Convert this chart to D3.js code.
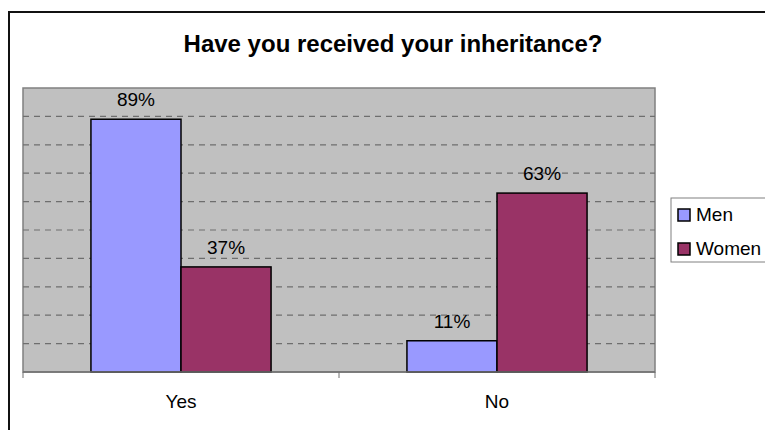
<!DOCTYPE html>
<html>
<head>
<meta charset="utf-8">
<script src="https://cdn.jsdelivr.net/npm/d3@7/dist/d3.min.js"></script>
<style>
  body { margin: 0; background: #fff; }
  svg { display: block; font-family: "Liberation Sans", Arial, sans-serif; }
</style>
</head>
<body>
<div class="chart"></div>
<script>
// data
const answers = ["Yes", "No"]
const groups = ["Men", "Women"]
const men = [89, 11]
const women = [37, 63]
const gridTicks = [10, 20, 30, 40, 50, 60, 70, 80, 90]

const W = 765, H = 430
const margin = {top: 88, right: 110, bottom: 58, left: 23},
  width = 655 - margin.left,
  height = 372 - margin.top

const svg = d3.select(".chart")
  .append("svg")
  .attr("width", W)
  .attr("height", H)

// outer chart frame (runs off the right and bottom of the picture)
svg.append("rect")
  .attr("x", 9).attr("y", 12)
  .attr("width", W + 20).attr("height", H + 20)
  .attr("fill", "none")
  .attr("stroke", "#111")
  .attr("stroke-width", 2)

svg.append("text")
  .attr("x", 393).attr("y", 52)
  .attr("text-anchor", "middle")
  .attr("font-size", "24px")
  .attr("font-weight", "bold")
  .attr("fill", "#000")
  .text("Have you received your inheritance?")

const g = svg.append("g")
  .attr("transform", `translate(${margin.left},${margin.top})`)

const x = d3.scaleBand()
  .domain(answers)
  .range([0, width])
  .paddingInner(0)
  .paddingOuter(0)

const xSub = d3.scaleBand()
  .domain(groups)
  .range([x.bandwidth() * 0.215, x.bandwidth() * 0.785])

const y = d3.scaleLinear()
  .domain([0, 100])
  .range([height, 0])

const color = d3.scaleOrdinal()
  .domain(groups)
  .range(["#9999ff", "#993366"])

// plot area
g.append("rect")
  .attr("width", width)
  .attr("height", height)
  .attr("fill", "#c0c0c0")
  .attr("stroke", "#808080")
  .attr("stroke-width", 1.5)

// dashed grid
g.append("g")
  .selectAll("line")
  .data(gridTicks)
  .join("line")
  .attr("x1", 0).attr("x2", width)
  .attr("y1", d => y(d)).attr("y2", d => y(d))
  .attr("stroke", "#6e6e6e")
  .attr("stroke-width", 1.2)
  .attr("stroke-dasharray", "6,5")

const rows = answers.map((a, i) => ({answer: a, values: [
  {key: "Men", value: men[i]},
  {key: "Women", value: women[i]}
]}))

const grp = g.append("g")
  .selectAll("g")
  .data(rows)
  .join("g")
  .attr("transform", d => `translate(${x(d.answer)},0)`)

grp.selectAll("rect")
  .data(d => d.values)
  .join("rect")
  .attr("x", d => xSub(d.key))
  .attr("width", xSub.bandwidth())
  .attr("y", d => y(d.value))
  .attr("height", d => height - y(d.value))
  .attr("fill", d => color(d.key))
  .attr("stroke", "#000")
  .attr("stroke-width", 1.5)

grp.selectAll("text")
  .data(d => d.values)
  .join("text")
  .attr("x", d => xSub(d.key) + xSub.bandwidth() / 2)
  .attr("y", d => y(d.value) - 13)
  .attr("text-anchor", "middle")
  .attr("font-size", "19px")
  .attr("fill", "#000")
  .text(d => d.value + "%")

// x axis: line with ticks at category boundaries
const xAxis = g.append("g")
  .attr("transform", `translate(0,${height})`)
xAxis.append("line")
  .attr("x1", 0).attr("x2", width)
  .attr("stroke", "#707070").attr("stroke-width", 1.5)
xAxis.selectAll(".tick")
  .data([0, x("No"), width])
  .join("line")
  .attr("class", "tick")
  .attr("x1", d => d).attr("x2", d => d)
  .attr("y1", 0).attr("y2", 6)
  .attr("stroke", "#707070").attr("stroke-width", 1)
xAxis.selectAll("text")
  .data(answers)
  .join("text")
  .attr("x", d => x(d) + x.bandwidth() / 2)
  .attr("y", 36)
  .attr("text-anchor", "middle")
  .attr("font-size", "19px")
  .attr("fill", "#000")
  .text(d => d)

// legend
const legend = svg.append("g").attr("transform", "translate(671,198)")
legend.append("rect")
  .attr("width", 110).attr("height", 64)
  .attr("fill", "#fff")
  .attr("stroke", "#808080")
  .attr("stroke-width", 1)
const items = legend.selectAll(".item")
  .data(groups)
  .join("g")
  .attr("class", "item")
  .attr("transform", (d, i) => `translate(7,${11 + i * 34})`)
items.append("rect")
  .attr("width", 12).attr("height", 12)
  .attr("fill", d => color(d))
  .attr("stroke", "#000")
  .attr("stroke-width", 1.5)
items.append("text")
  .attr("x", 18).attr("y", 12)
  .attr("font-size", "19px")
  .attr("fill", "#000")
  .text(d => d)
</script>
</body>
</html>
